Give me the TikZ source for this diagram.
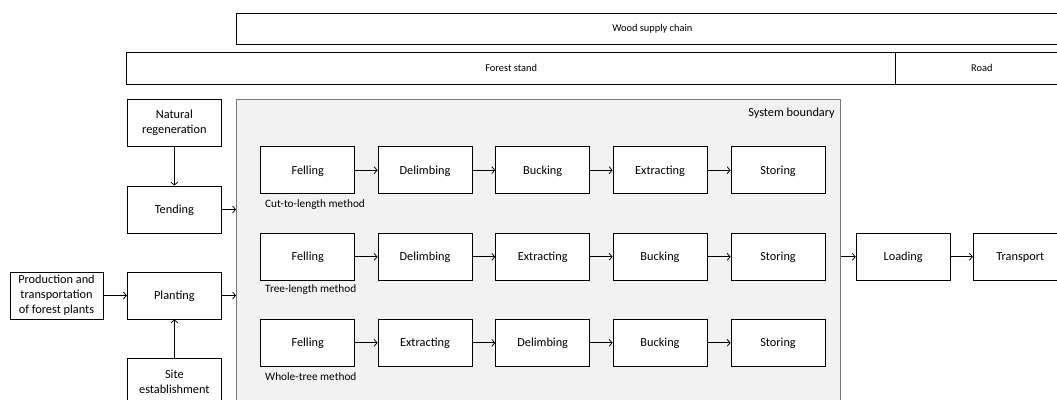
\documentclass[tikz,border=0pt]{standalone}
\usepackage{fontspec}
\setmainfont{Carlito}
\usetikzlibrary{arrows.meta}
\definecolor{sbfill}{RGB}{242,242,242}
\definecolor{sbline}{RGB}{120,120,120}
\begin{document}
\begin{tikzpicture}[x=1pt,y=-1pt,
  box/.style={draw=black, line width=0.85pt, fill=white, minimum width=94pt, minimum height=47pt, inner sep=0pt, align=center, font=\fontsize{12.3}{14.8}\selectfont},
  sbox/.style={draw=black, line width=0.85pt, fill=white, minimum width=94pt, minimum height=47pt, inner sep=0pt, text height=10pt, text depth=2pt, font=\fontsize{12.3}{14.8}\selectfont},
  bar/.style={draw=black, line width=0.85pt, fill=white, inner sep=0pt, font=\fontsize{10.4}{12}\selectfont},
  meth/.style={anchor=west, inner sep=0pt, font=\fontsize{11.3}{12}\selectfont},
  arr/.style={-{Straight Barb[length=3pt,width=7pt]}, line width=0.75pt}]
\clip (0,0) rectangle (1057,399);
% top bars
\node[bar, minimum width=831.3pt, minimum height=31pt] (wsc) at (652.35,28.8) {Wood supply chain};
\node[bar, minimum width=769pt, minimum height=32pt] (fs) at (511.2,68.3) {Forest stand};
\node[bar, minimum width=172.3pt, minimum height=32pt] (road) at (981.85,68.3) {Road};
% system boundary
\node[draw=sbline, fill=sbfill, line width=1.3pt, minimum width=604pt, minimum height=330pt, inner sep=0pt] (sb) at (538.7,264.3) {};
\node[anchor=east, inner sep=0pt, font=\fontsize{12.3}{14}\selectfont] (sbl) at (835,113) {System boundary};
% left column
\node[box] (nat) at (174.35,123) {Natural\\regeneration};
\node[sbox] (tend) at (174.35,209.5) {Tending};
\node[sbox] (plant) at (174.35,295.5) {Planting};
\node[box] (site) at (174.35,381.5) {Site\\establishment};
\node[box, minimum width=93pt] (prod) at (56.5,295.5) {Production and\\transportation\\of forest plants};
% row 1
\node[sbox] (a1) at (307.7,170.2) {Felling};
\node[sbox] (a2) at (425,170.2) {Delimbing};
\node[sbox] (a3) at (542.7,170.2) {Bucking};
\node[sbox] (a4) at (660,170.2) {Extracting};
\node[sbox] (a5) at (778,170.2) {Storing};
\node[meth] (m1) at (265,204.3) {Cut-to-length method};
% row 2
\node[sbox] (b1) at (307.7,256.8) {Felling};
\node[sbox] (b2) at (425,256.8) {Delimbing};
\node[sbox] (b3) at (542.7,256.8) {Extracting};
\node[sbox] (b4) at (660,256.8) {Bucking};
\node[sbox] (b5) at (778,256.8) {Storing};
\node[meth] (m2) at (265,289.3) {Tree-length method};
% row 3
\node[sbox] (c1) at (307.7,342.8) {Felling};
\node[sbox] (c2) at (425,342.8) {Extracting};
\node[sbox] (c3) at (542.7,342.8) {Delimbing};
\node[sbox] (c4) at (660,342.8) {Bucking};
\node[sbox] (c5) at (778,342.8) {Storing};
\node[meth] (m3) at (265,377) {Whole-tree method};
% right
\node[sbox] (load) at (903.2,256.8) {Loading};
\node[sbox] (trans) at (1020.3,256.8) {Transport};
% connectors
\draw[arr] (nat.south) -- (tend.north);
\draw[arr] (site.north) -- (plant.south);
\draw[arr] (prod.east) -- (plant.west);
\draw[arr] (tend.east) -- (tend.east -| sb.west);
\draw[arr] (plant.east) -- (plant.east -| sb.west);
\foreach \r in {a,b,c}{
  \draw[arr] (\r1.east) -- (\r2.west);
  \draw[arr] (\r2.east) -- (\r3.west);
  \draw[arr] (\r3.east) -- (\r4.west);
  \draw[arr] (\r4.east) -- (\r5.west);
}
\draw[arr] (load.west -| sb.east) -- (load.west);
\draw[arr] (load.east) -- (trans.west);
\end{tikzpicture}
\end{document}
